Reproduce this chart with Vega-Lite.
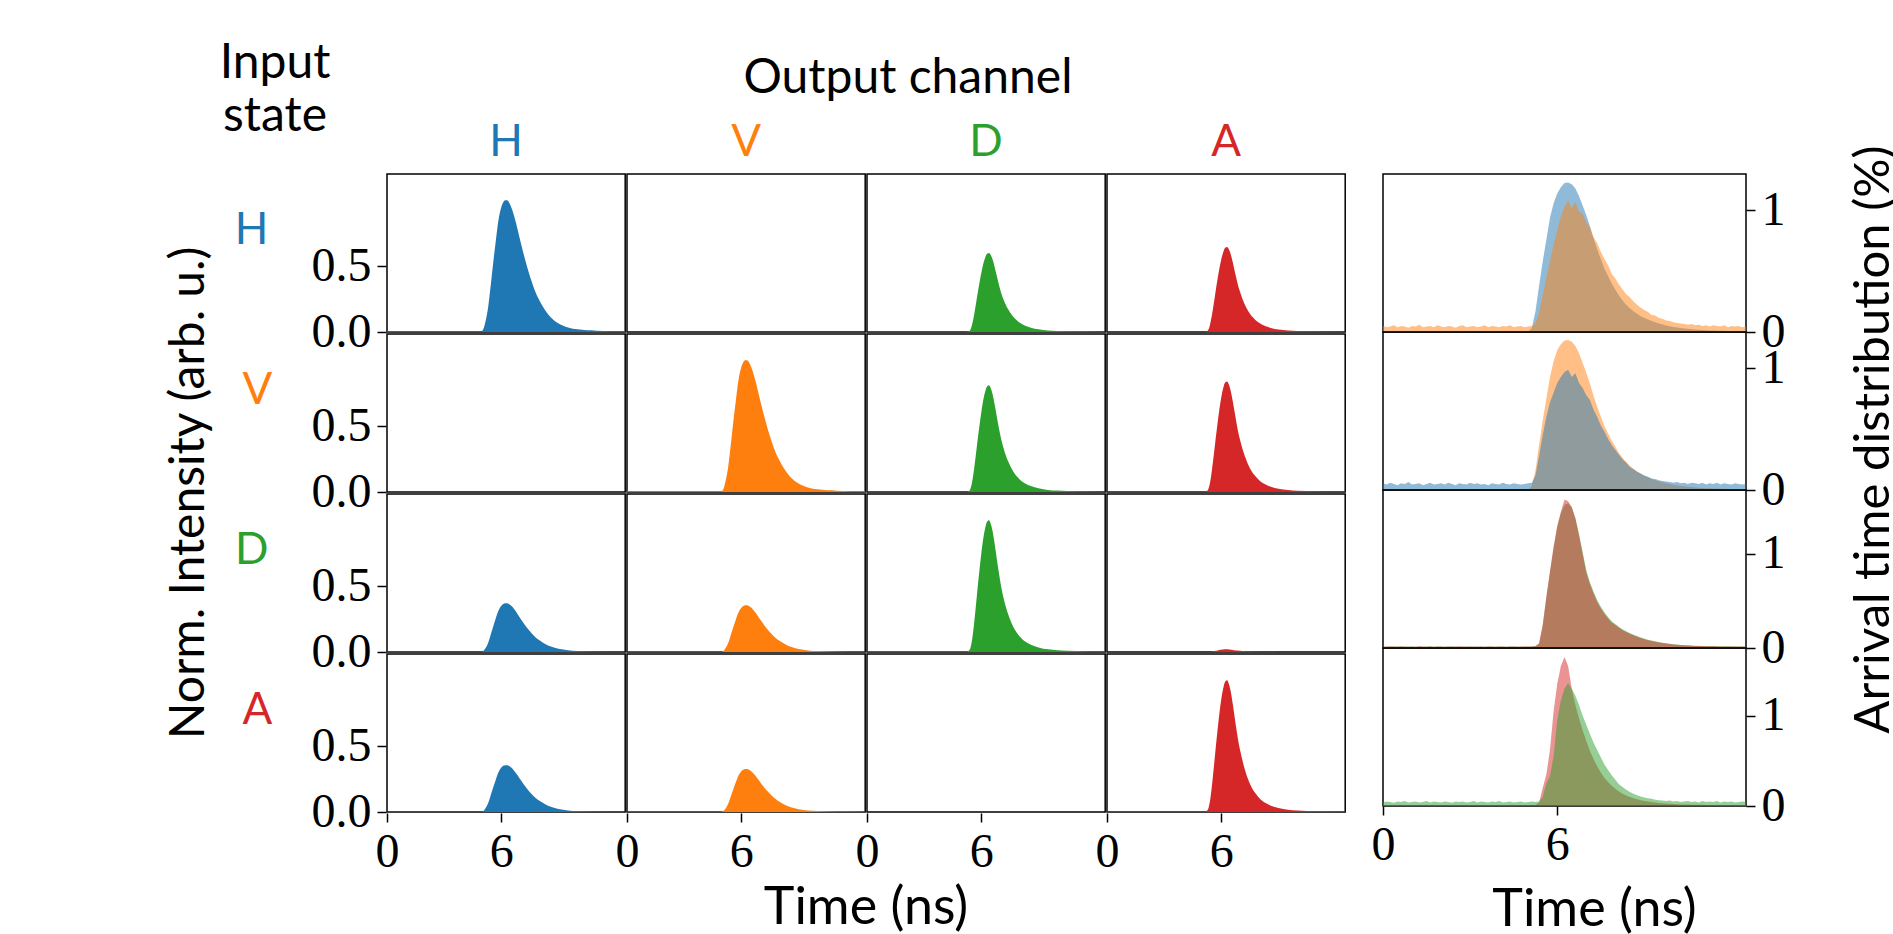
{
  "$schema": "https://vega.github.io/schema/vega-lite/v6.json",
  "background": "white",
  "padding": {"left": 165, "top": 40, "right": 0, "bottom": 0},
  "title": {"text": ["Input", "state"], "anchor": "start", "frame": "bounds", "align": "center", "dx": 109, "offset": -86, "font": "Lato", "fontSize": 48, "fontWeight": "normal", "lineHeight": 53, "color": "black"},
  "config": {
    "font": "Lato",
    "view": {"stroke": "black", "strokeWidth": 1.5},
    "title": {"font": "Lato", "fontSize": 48, "fontWeight": "normal", "color": "black"},
    "axis": {"labelFont": "Liberation Serif", "labelFontSize": 48, "labelColor": "black", "tickColor": "black", "tickSize": 9, "tickWidth": 1.5, "domain": false, "grid": false, "labelFlush": false, "labelPadding": 6, "titleFont": "Lato", "titleFontSize": 48, "titleFontWeight": "normal", "titleColor": "black"}
  },
  "datasets": {
    "main": [
      {"i":"H","o":"H","t":[0,4.9,5,5.1,5.2,5.3,5.4,5.5,5.6,5.7,5.8,5.9,6,6.1,6.2,6.3,6.4,6.5,6.6,6.7,6.8,6.9,7,7.2,7.4,7.6,7.8,8,8.3,8.6,9,9.5,10,11,12.5],"v":[0.005,0.005,0.01,0.04,0.1,0.18,0.3,0.43,0.56,0.68,0.8,0.89,0.95,0.985,1,1,0.985,0.955,0.915,0.865,0.81,0.75,0.69,0.575,0.47,0.38,0.3,0.24,0.165,0.11,0.065,0.035,0.02,0.01,0.005]},
      {"i":"H","o":"V","t":[0,4.9,5,5.1,5.2,5.3,5.4,5.5,5.6,5.7,5.8,5.9,6,6.1,6.2,6.3,6.4,6.5,6.6,6.7,6.8,6.9,7,7.2,7.4,7.6,7.8,8,8.3,8.6,9,9.5,10,11,12.5],"v":[0,0,0,0,0,0,0,0,0,0,0,0,0,0,0,0,0,0,0,0,0,0,0,0,0,0,0,0,0,0,0,0,0,0,0]},
      {"i":"H","o":"D","t":[0,4.9,5,5.1,5.2,5.3,5.4,5.5,5.6,5.7,5.8,5.9,6,6.1,6.2,6.3,6.4,6.5,6.6,6.7,6.8,6.9,7,7.2,7.4,7.6,7.8,8,8.3,8.6,9,9.5,10,11,12.5],"v":[0.002,0.002,0.002,0.002,0.002,0.003,0.012,0.048,0.114,0.198,0.288,0.372,0.45,0.516,0.564,0.594,0.6,0.582,0.546,0.492,0.432,0.372,0.318,0.234,0.174,0.129,0.096,0.072,0.048,0.033,0.021,0.012,0.008,0.005,0.002]},
      {"i":"H","o":"A","t":[0,4.9,5,5.1,5.2,5.3,5.4,5.5,5.6,5.7,5.8,5.9,6,6.1,6.2,6.3,6.4,6.5,6.6,6.7,6.8,6.9,7,7.2,7.4,7.6,7.8,8,8.3,8.6,9,9.5,10,11,12.5],"v":[0.002,0.002,0.002,0.002,0.003,0.013,0.052,0.123,0.213,0.31,0.4,0.484,0.555,0.606,0.639,0.645,0.626,0.587,0.529,0.464,0.4,0.342,0.297,0.219,0.161,0.119,0.09,0.068,0.045,0.031,0.019,0.012,0.008,0.005,0.002]},
      {"i":"V","o":"H","t":[0,4.9,5,5.1,5.2,5.3,5.4,5.5,5.6,5.7,5.8,5.9,6,6.1,6.2,6.3,6.4,6.5,6.6,6.7,6.8,6.9,7,7.2,7.4,7.6,7.8,8,8.3,8.6,9,9.5,10,11,12.5],"v":[0,0,0,0,0,0,0,0,0,0,0,0,0,0,0,0,0,0,0,0,0,0,0,0,0,0,0,0,0,0,0,0,0,0,0]},
      {"i":"V","o":"V","t":[0,4.9,5,5.1,5.2,5.3,5.4,5.5,5.6,5.7,5.8,5.9,6,6.1,6.2,6.3,6.4,6.5,6.6,6.7,6.8,6.9,7,7.2,7.4,7.6,7.8,8,8.3,8.6,9,9.5,10,11,12.5],"v":[0.005,0.005,0.01,0.04,0.1,0.18,0.3,0.43,0.56,0.68,0.8,0.89,0.95,0.985,1,1,0.985,0.955,0.915,0.865,0.81,0.75,0.69,0.575,0.47,0.38,0.3,0.24,0.165,0.11,0.065,0.035,0.02,0.01,0.005]},
      {"i":"V","o":"D","t":[0,4.9,5,5.1,5.2,5.3,5.4,5.5,5.6,5.7,5.8,5.9,6,6.1,6.2,6.3,6.4,6.5,6.6,6.7,6.8,6.9,7,7.2,7.4,7.6,7.8,8,8.3,8.6,9,9.5,10,11,12.5],"v":[0.002,0.002,0.002,0.002,0.002,0.004,0.016,0.065,0.154,0.267,0.389,0.502,0.608,0.697,0.761,0.802,0.81,0.786,0.737,0.664,0.583,0.502,0.429,0.316,0.235,0.174,0.13,0.097,0.065,0.045,0.028,0.016,0.011,0.006,0.002]},
      {"i":"V","o":"A","t":[0,4.9,5,5.1,5.2,5.3,5.4,5.5,5.6,5.7,5.8,5.9,6,6.1,6.2,6.3,6.4,6.5,6.6,6.7,6.8,6.9,7,7.2,7.4,7.6,7.8,8,8.3,8.6,9,9.5,10,11,12.5],"v":[0.003,0.003,0.003,0.003,0.004,0.017,0.067,0.16,0.277,0.403,0.521,0.63,0.722,0.79,0.832,0.84,0.815,0.764,0.689,0.605,0.521,0.445,0.386,0.286,0.21,0.155,0.118,0.088,0.059,0.04,0.025,0.015,0.01,0.006,0.003]},
      {"i":"D","o":"H","t":[0,4.9,5,5.1,5.2,5.3,5.4,5.5,5.6,5.7,5.8,5.9,6,6.1,6.2,6.3,6.4,6.5,6.6,6.7,6.8,6.9,7,7.2,7.4,7.6,7.8,8,8.3,8.6,9,9.5,10,11,12.5],"v":[0.002,0.002,0.004,0.015,0.037,0.067,0.111,0.159,0.207,0.252,0.296,0.329,0.352,0.364,0.37,0.37,0.364,0.353,0.339,0.32,0.3,0.278,0.255,0.213,0.174,0.141,0.111,0.089,0.061,0.041,0.024,0.013,0.007,0.004,0.002]},
      {"i":"D","o":"V","t":[0,4.9,5,5.1,5.2,5.3,5.4,5.5,5.6,5.7,5.8,5.9,6,6.1,6.2,6.3,6.4,6.5,6.6,6.7,6.8,6.9,7,7.2,7.4,7.6,7.8,8,8.3,8.6,9,9.5,10,11,12.5],"v":[0.002,0.002,0.004,0.014,0.036,0.064,0.107,0.153,0.199,0.241,0.284,0.316,0.337,0.35,0.355,0.355,0.35,0.339,0.325,0.307,0.288,0.266,0.245,0.204,0.167,0.135,0.107,0.085,0.059,0.039,0.023,0.012,0.007,0.004,0.002]},
      {"i":"D","o":"D","t":[0,4.9,5,5.1,5.2,5.3,5.4,5.5,5.6,5.7,5.8,5.9,6,6.1,6.2,6.3,6.4,6.5,6.6,6.7,6.8,6.9,7,7.2,7.4,7.6,7.8,8,8.3,8.6,9,9.5,10,11,12.5],"v":[0.003,0.003,0.003,0.003,0.003,0.005,0.02,0.08,0.19,0.33,0.48,0.62,0.75,0.86,0.94,0.99,1,0.97,0.91,0.82,0.72,0.62,0.53,0.39,0.29,0.215,0.16,0.12,0.08,0.055,0.035,0.02,0.014,0.008,0.003]},
      {"i":"D","o":"A","t":[0,4.9,5,5.1,5.2,5.3,5.4,5.5,5.6,5.7,5.8,5.9,6,6.1,6.2,6.3,6.4,6.5,6.6,6.7,6.8,6.9,7,7.2,7.4,7.6,7.8,8,8.3,8.6,9,9.5,10,11,12.5],"v":[0,0,0,0,0,0,0.002,0.004,0.007,0.01,0.012,0.015,0.017,0.019,0.02,0.02,0.019,0.018,0.016,0.014,0.012,0.011,0.009,0.007,0.005,0.004,0.003,0.002,0.001,0.001,0,0,0,0,0]},
      {"i":"A","o":"H","t":[0,4.9,5,5.1,5.2,5.3,5.4,5.5,5.6,5.7,5.8,5.9,6,6.1,6.2,6.3,6.4,6.5,6.6,6.7,6.8,6.9,7,7.2,7.4,7.6,7.8,8,8.3,8.6,9,9.5,10,11,12.5],"v":[0.002,0.002,0.004,0.014,0.036,0.064,0.107,0.153,0.199,0.242,0.285,0.317,0.338,0.351,0.356,0.356,0.351,0.34,0.326,0.308,0.288,0.267,0.246,0.205,0.167,0.135,0.107,0.085,0.059,0.039,0.023,0.012,0.007,0.004,0.002]},
      {"i":"A","o":"V","t":[0,4.9,5,5.1,5.2,5.3,5.4,5.5,5.6,5.7,5.8,5.9,6,6.1,6.2,6.3,6.4,6.5,6.6,6.7,6.8,6.9,7,7.2,7.4,7.6,7.8,8,8.3,8.6,9,9.5,10,11,12.5],"v":[0.002,0.002,0.003,0.013,0.033,0.059,0.098,0.14,0.183,0.222,0.261,0.29,0.31,0.321,0.326,0.326,0.321,0.311,0.298,0.282,0.264,0.245,0.225,0.187,0.153,0.124,0.098,0.078,0.054,0.036,0.021,0.011,0.007,0.003,0.002]},
      {"i":"A","o":"D","t":[0,4.9,5,5.1,5.2,5.3,5.4,5.5,5.6,5.7,5.8,5.9,6,6.1,6.2,6.3,6.4,6.5,6.6,6.7,6.8,6.9,7,7.2,7.4,7.6,7.8,8,8.3,8.6,9,9.5,10,11,12.5],"v":[0,0,0,0,0,0,0,0,0,0,0,0,0,0,0,0,0,0,0,0,0,0,0,0,0,0,0,0,0,0,0,0,0,0,0]},
      {"i":"A","o":"A","t":[0,4.9,5,5.1,5.2,5.3,5.4,5.5,5.6,5.7,5.8,5.9,6,6.1,6.2,6.3,6.4,6.5,6.6,6.7,6.8,6.9,7,7.2,7.4,7.6,7.8,8,8.3,8.6,9,9.5,10,11,12.5],"v":[0.003,0.003,0.003,0.003,0.005,0.02,0.08,0.19,0.33,0.48,0.62,0.75,0.86,0.94,0.99,1,0.97,0.91,0.82,0.72,0.62,0.53,0.46,0.34,0.25,0.185,0.14,0.105,0.07,0.048,0.03,0.018,0.012,0.007,0.003]}
    ],
    "right": [
      {"r":"H","t":[0,0.125,0.25,0.375,0.5,0.625,0.75,0.875,1,1.125,1.25,1.375,1.5,1.625,1.75,1.875,2,2.125,2.25,2.375,2.5,2.625,2.75,2.875,3,3.125,3.25,3.375,3.5,3.625,3.75,3.875,4,4.125,4.25,4.375,4.5,4.625,4.75,4.875,5,5.125,5.25,5.375,5.5,5.625,5.75,5.875,6,6.125,6.25,6.375,6.5,6.625,6.75,6.875,7,7.125,7.25,7.375,7.5,7.625,7.75,7.875,8,8.125,8.25,8.375,8.5,8.625,8.75,8.875,9,9.125,9.25,9.375,9.5,9.625,9.75,9.875,10,10.125,10.25,10.375,10.5,10.625,10.75,10.875,11,11.125,11.25,11.375,11.5,11.625,11.75,11.875,12,12.125,12.25,12.375,12.5],
       "a":[0.005,0.005,0.005,0.005,0.005,0.005,0.005,0.005,0.005,0.005,0.005,0.005,0.005,0.005,0.005,0.005,0.005,0.005,0.005,0.005,0.005,0.005,0.005,0.005,0.005,0.005,0.005,0.005,0.005,0.005,0.005,0.005,0.005,0.005,0.005,0.005,0.005,0.005,0.005,0.005,0.005,0.03,0.17,0.38,0.58,0.76,0.94,1.06,1.14,1.19,1.225,1.23,1.215,1.18,1.12,1.04,0.96,0.87,0.77,0.68,0.6,0.52,0.46,0.4,0.35,0.3,0.26,0.225,0.195,0.17,0.15,0.13,0.117,0.103,0.09,0.08,0.07,0.062,0.054,0.048,0.042,0.037,0.033,0.029,0.026,0.023,0.02,0.018,0.016,0.015,0.013,0.012,0.011,0.01,0.01,0.009,0.008,0.008,0.007,0.007,0.006],
       "b":[0.05,0.04,0.045,0.055,0.04,0.05,0.045,0.035,0.05,0.045,0.06,0.04,0.045,0.05,0.04,0.055,0.045,0.04,0.05,0.045,0.035,0.05,0.055,0.04,0.045,0.05,0.04,0.045,0.055,0.04,0.05,0.045,0.04,0.05,0.045,0.055,0.04,0.045,0.05,0.04,0.045,0.05,0.07,0.16,0.3,0.45,0.58,0.72,0.84,0.95,1.03,1.08,1.02,1.07,0.99,0.97,0.9,0.86,0.78,0.73,0.66,0.6,0.55,0.48,0.44,0.39,0.35,0.31,0.285,0.25,0.225,0.2,0.18,0.165,0.14,0.135,0.115,0.11,0.095,0.09,0.08,0.075,0.07,0.065,0.06,0.065,0.055,0.06,0.05,0.055,0.045,0.055,0.05,0.045,0.055,0.04,0.05,0.045,0.05,0.04,0.045]},
      {"r":"V","t":[0,0.125,0.25,0.375,0.5,0.625,0.75,0.875,1,1.125,1.25,1.375,1.5,1.625,1.75,1.875,2,2.125,2.25,2.375,2.5,2.625,2.75,2.875,3,3.125,3.25,3.375,3.5,3.625,3.75,3.875,4,4.125,4.25,4.375,4.5,4.625,4.75,4.875,5,5.125,5.25,5.375,5.5,5.625,5.75,5.875,6,6.125,6.25,6.375,6.5,6.625,6.75,6.875,7,7.125,7.25,7.375,7.5,7.625,7.75,7.875,8,8.125,8.25,8.375,8.5,8.625,8.75,8.875,9,9.125,9.25,9.375,9.5,9.625,9.75,9.875,10,10.125,10.25,10.375,10.5,10.625,10.75,10.875,11,11.125,11.25,11.375,11.5,11.625,11.75,11.875,12,12.125,12.25,12.375,12.5],
       "a":[0.005,0.005,0.005,0.005,0.005,0.005,0.005,0.005,0.005,0.005,0.005,0.005,0.005,0.005,0.005,0.005,0.005,0.005,0.005,0.005,0.005,0.005,0.005,0.005,0.005,0.005,0.005,0.005,0.005,0.005,0.005,0.005,0.005,0.005,0.005,0.005,0.005,0.005,0.005,0.005,0.005,0.03,0.16,0.37,0.57,0.75,0.93,1.06,1.15,1.2,1.23,1.235,1.22,1.185,1.125,1.045,0.965,0.875,0.775,0.685,0.605,0.525,0.465,0.405,0.355,0.305,0.265,0.23,0.2,0.175,0.153,0.133,0.118,0.104,0.091,0.081,0.071,0.063,0.055,0.049,0.043,0.038,0.034,0.03,0.027,0.024,0.021,0.019,0.017,0.015,0.014,0.013,0.012,0.011,0.01,0.009,0.009,0.008,0.008,0.007,0.007],
       "b":[0.055,0.045,0.06,0.05,0.04,0.055,0.05,0.065,0.045,0.05,0.055,0.04,0.05,0.06,0.045,0.05,0.055,0.045,0.06,0.05,0.04,0.055,0.05,0.045,0.06,0.05,0.055,0.045,0.05,0.04,0.055,0.05,0.045,0.06,0.05,0.045,0.055,0.05,0.045,0.05,0.055,0.06,0.12,0.28,0.45,0.6,0.72,0.8,0.88,0.93,0.97,0.99,0.93,0.96,0.88,0.84,0.78,0.74,0.66,0.6,0.53,0.48,0.42,0.37,0.33,0.29,0.25,0.225,0.19,0.17,0.15,0.135,0.12,0.11,0.095,0.09,0.08,0.075,0.07,0.065,0.06,0.065,0.055,0.06,0.05,0.06,0.055,0.05,0.06,0.045,0.055,0.05,0.06,0.045,0.055,0.05,0.045,0.055,0.05,0.045,0.05]},
      {"r":"D","t":[0,0.125,0.25,0.375,0.5,0.625,0.75,0.875,1,1.125,1.25,1.375,1.5,1.625,1.75,1.875,2,2.125,2.25,2.375,2.5,2.625,2.75,2.875,3,3.125,3.25,3.375,3.5,3.625,3.75,3.875,4,4.125,4.25,4.375,4.5,4.625,4.75,4.875,5,5.125,5.25,5.375,5.5,5.625,5.75,5.875,6,6.125,6.25,6.375,6.5,6.625,6.75,6.875,7,7.125,7.25,7.375,7.5,7.625,7.75,7.875,8,8.125,8.25,8.375,8.5,8.625,8.75,8.875,9,9.125,9.25,9.375,9.5,9.625,9.75,9.875,10,10.125,10.25,10.375,10.5,10.625,10.75,10.875,11,11.125,11.25,11.375,11.5,11.625,11.75,11.875,12,12.125,12.25,12.375,12.5],
       "a":[0.014,0.017,0.013,0.016,0.015,0.018,0.012,0.015,0.017,0.014,0.016,0.013,0.015,0.018,0.014,0.016,0.015,0.013,0.017,0.015,0.016,0.014,0.012,0.017,0.015,0.016,0.014,0.015,0.013,0.017,0.015,0.014,0.016,0.015,0.013,0.016,0.015,0.017,0.014,0.016,0.015,0.016,0.019,0.045,0.23,0.53,0.8,1.06,1.28,1.43,1.52,1.54,1.49,1.38,1.21,1.02,0.83,0.7,0.6,0.51,0.44,0.38,0.33,0.285,0.255,0.225,0.2,0.178,0.16,0.142,0.127,0.112,0.1,0.089,0.079,0.071,0.063,0.056,0.05,0.045,0.041,0.037,0.033,0.03,0.028,0.026,0.024,0.023,0.022,0.021,0.02,0.02,0.019,0.019,0.018,0.018,0.018,0.017,0.017,0.017,0.016],
       "b":[0.015,0.012,0.018,0.015,0.013,0.017,0.015,0.012,0.016,0.014,0.018,0.015,0.013,0.016,0.014,0.017,0.015,0.012,0.016,0.015,0.014,0.018,0.015,0.013,0.016,0.014,0.015,0.017,0.013,0.015,0.016,0.014,0.015,0.017,0.013,0.015,0.016,0.014,0.015,0.016,0.015,0.017,0.02,0.05,0.25,0.55,0.82,1.08,1.3,1.45,1.58,1.56,1.5,1.38,1.2,1.0,0.8,0.68,0.58,0.49,0.42,0.365,0.315,0.27,0.245,0.215,0.19,0.17,0.152,0.135,0.12,0.106,0.094,0.083,0.074,0.066,0.058,0.052,0.047,0.042,0.038,0.034,0.031,0.028,0.026,0.024,0.022,0.021,0.02,0.019,0.019,0.018,0.018,0.017,0.017,0.016,0.016,0.016,0.015,0.015,0.015]},
      {"r":"A","t":[0,0.125,0.25,0.375,0.5,0.625,0.75,0.875,1,1.125,1.25,1.375,1.5,1.625,1.75,1.875,2,2.125,2.25,2.375,2.5,2.625,2.75,2.875,3,3.125,3.25,3.375,3.5,3.625,3.75,3.875,4,4.125,4.25,4.375,4.5,4.625,4.75,4.875,5,5.125,5.25,5.375,5.5,5.625,5.75,5.875,6,6.125,6.25,6.375,6.5,6.625,6.75,6.875,7,7.125,7.25,7.375,7.5,7.625,7.75,7.875,8,8.125,8.25,8.375,8.5,8.625,8.75,8.875,9,9.125,9.25,9.375,9.5,9.625,9.75,9.875,10,10.125,10.25,10.375,10.5,10.625,10.75,10.875,11,11.125,11.25,11.375,11.5,11.625,11.75,11.875,12,12.125,12.25,12.375,12.5],
       "a":[0.01,0.01,0.01,0.01,0.01,0.01,0.01,0.01,0.01,0.01,0.01,0.01,0.01,0.01,0.01,0.01,0.01,0.01,0.01,0.01,0.01,0.01,0.01,0.01,0.01,0.01,0.01,0.01,0.01,0.01,0.01,0.01,0.01,0.01,0.01,0.01,0.01,0.01,0.01,0.01,0.01,0.01,0.01,0.04,0.2,0.35,0.62,1.05,1.35,1.55,1.65,1.55,1.3,1.12,0.97,0.84,0.72,0.61,0.52,0.44,0.37,0.31,0.265,0.225,0.19,0.16,0.137,0.117,0.1,0.086,0.074,0.064,0.056,0.049,0.043,0.038,0.034,0.03,0.027,0.024,0.022,0.02,0.018,0.017,0.016,0.015,0.014,0.013,0.013,0.012,0.012,0.011,0.011,0.011,0.01,0.01,0.01,0.01,0.01,0.01,0.01],
       "b":[0.04,0.05,0.045,0.035,0.05,0.045,0.055,0.04,0.045,0.05,0.04,0.045,0.055,0.04,0.05,0.045,0.04,0.05,0.045,0.035,0.05,0.045,0.05,0.04,0.045,0.055,0.04,0.05,0.045,0.04,0.05,0.045,0.055,0.04,0.045,0.05,0.04,0.045,0.05,0.04,0.045,0.05,0.045,0.05,0.1,0.25,0.33,0.55,0.95,1.17,1.3,1.36,1.3,1.22,1.12,1.0,0.9,0.8,0.7,0.62,0.54,0.46,0.4,0.34,0.29,0.24,0.21,0.18,0.155,0.135,0.12,0.105,0.095,0.085,0.08,0.07,0.065,0.06,0.055,0.06,0.05,0.055,0.045,0.05,0.055,0.045,0.05,0.04,0.055,0.045,0.05,0.045,0.055,0.04,0.05,0.045,0.05,0.04,0.045,0.05,0.045]}
    ]
  },
  "spacing": 24,
  "hconcat": [
    {
      "data": {"name": "main"},
      "transform": [{"flatten": ["t", "v"]}],
      "title": {"text": "Output channel", "anchor": "middle", "frame": "bounds", "dx": 152, "offset": 18},
      "spacing": 0,
      "facet": {
        "row": {"field": "i", "type": "nominal", "sort": ["H", "V", "D", "A"],
          "header": {"title": "Norm. Intensity (arb. u.)", "titleFont": "Lato", "titleFontSize": 48, "titleFontWeight": "normal", "titleColor": "black", "titlePadding": 10,
            "labelAngle": 0, "labelFont": "Lato", "labelFontSize": 44, "labelBaseline": "bottom", "labelPadding": 9,
            "labelColor": {"expr": "parent['i'] == 'H' ? '#1f77b4' : parent['i'] == 'V' ? '#ff7f0e' : parent['i'] == 'D' ? '#2ca02c' : '#d62728'"}}},
        "column": {"field": "o", "type": "nominal", "sort": ["H", "V", "D", "A"],
          "header": {"title": "Time (ns)", "titleOrient": "bottom", "titleFont": "Lato", "titleFontSize": 52, "titleFontWeight": "normal", "titleColor": "black", "titlePadding": -3,
            "labelFont": "Lato", "labelFontSize": 44, "labelPadding": 8,
            "labelColor": {"expr": "parent['o'] == 'H' ? '#1f77b4' : parent['o'] == 'V' ? '#ff7f0e' : parent['o'] == 'D' ? '#2ca02c' : '#d62728'"}}}
      },
      "spec": {
        "width": 238.2,
        "height": 158,
        "mark": {"type": "area", "interpolate": "monotone"},
        "encoding": {
          "x": {"field": "t", "type": "quantitative", "scale": {"domain": [0, 12.5], "nice": false}, "axis": {"values": [0, 6], "format": "d", "title": null}},
          "y": {"field": "v", "type": "quantitative", "scale": {"domain": [0, 1.2], "nice": false}, "axis": {"values": [0, 0.5], "format": ".1f", "title": null}},
          "color": {"field": "o", "type": "nominal", "scale": {"domain": ["H", "V", "D", "A"], "range": ["#1f77b4", "#ff7f0e", "#2ca02c", "#d62728"]}, "legend": null}
        }
      }
    },
    {
      "spacing": 0,
      "bounds": "flush",
      "vconcat": [
        {
          "width": 363, "height": 158,
          "data": {"name": "right"},
          "transform": [{"filter": {"field": "r", "equal": "H"}}, {"flatten": ["t", "a", "b"]}],
          "layer": [
            {"mark": {"type": "area", "color": "#1f77b4", "opacity": 0.5},
             "encoding": {"x": {"field": "t", "type": "quantitative", "scale": {"domain": [0, 12.5], "nice": false}, "axis": null},
                          "y": {"field": "a", "type": "quantitative", "scale": {"domain": [0, 1.3], "nice": false}, "axis": {"orient": "right", "values": [0, 1], "format": "d", "title": null}}}},
            {"mark": {"type": "area", "color": "#ff7f0e", "opacity": 0.5},
             "encoding": {"x": {"field": "t", "type": "quantitative", "scale": {"domain": [0, 12.5], "nice": false}, "axis": null},
                          "y": {"field": "b", "type": "quantitative", "scale": {"domain": [0, 1.3], "nice": false}, "axis": {"orient": "right", "values": [0, 1], "format": "d", "title": null}}}}
          ]
        },
        {
          "width": 363, "height": 158,
          "data": {"name": "right"},
          "transform": [{"filter": {"field": "r", "equal": "V"}}, {"flatten": ["t", "a", "b"]}],
          "layer": [
            {"mark": {"type": "area", "color": "#ff7f0e", "opacity": 0.5},
             "encoding": {"x": {"field": "t", "type": "quantitative", "scale": {"domain": [0, 12.5], "nice": false}, "axis": null},
                          "y": {"field": "a", "type": "quantitative", "scale": {"domain": [0, 1.3], "nice": false}, "axis": {"orient": "right", "values": [0, 1], "format": "d", "title": "Arrival time distribution (%)", "titleFontSize": 49, "titleAngle": 270, "titleX": 142, "titleY": 107, "titleAlign": "center", "titleBaseline": "alphabetic"}}}},
            {"mark": {"type": "area", "color": "#1f77b4", "opacity": 0.5},
             "encoding": {"x": {"field": "t", "type": "quantitative", "scale": {"domain": [0, 12.5], "nice": false}, "axis": null},
                          "y": {"field": "b", "type": "quantitative", "scale": {"domain": [0, 1.3], "nice": false}, "axis": {"orient": "right", "values": [0, 1], "format": "d", "title": "Arrival time distribution (%)", "titleFontSize": 49, "titleAngle": 270, "titleX": 142, "titleY": 107, "titleAlign": "center", "titleBaseline": "alphabetic"}}}}
          ]
        },
        {
          "width": 363, "height": 158,
          "data": {"name": "right"},
          "transform": [{"filter": {"field": "r", "equal": "D"}}, {"flatten": ["t", "a", "b"]}],
          "layer": [
            {"mark": {"type": "area", "color": "#2ca02c", "opacity": 0.5},
             "encoding": {"x": {"field": "t", "type": "quantitative", "scale": {"domain": [0, 12.5], "nice": false}, "axis": null},
                          "y": {"field": "a", "type": "quantitative", "scale": {"domain": [0, 1.68], "nice": false}, "axis": {"orient": "right", "values": [0, 1], "format": "d", "title": null}}}},
            {"mark": {"type": "area", "color": "#d62728", "opacity": 0.5},
             "encoding": {"x": {"field": "t", "type": "quantitative", "scale": {"domain": [0, 12.5], "nice": false}, "axis": null},
                          "y": {"field": "b", "type": "quantitative", "scale": {"domain": [0, 1.68], "nice": false}, "axis": {"orient": "right", "values": [0, 1], "format": "d", "title": null}}}}
          ]
        },
        {
          "width": 363, "height": 158,
          "data": {"name": "right"},
          "transform": [{"filter": {"field": "r", "equal": "A"}}, {"flatten": ["t", "a", "b"]}],
          "layer": [
            {"mark": {"type": "area", "color": "#d62728", "opacity": 0.5},
             "encoding": {"x": {"field": "t", "type": "quantitative", "scale": {"domain": [0, 12.5], "nice": false}, "axis": {"values": [0, 6], "format": "d", "title": "Time (ns)", "titleFontSize": 52, "titleX": 211, "titlePadding": 15}},
                          "y": {"field": "a", "type": "quantitative", "scale": {"domain": [0, 1.75], "nice": false}, "axis": {"orient": "right", "values": [0, 1], "format": "d", "title": null}}}},
            {"mark": {"type": "area", "color": "#2ca02c", "opacity": 0.5},
             "encoding": {"x": {"field": "t", "type": "quantitative", "scale": {"domain": [0, 12.5], "nice": false}, "axis": {"values": [0, 6], "format": "d", "title": "Time (ns)", "titleFontSize": 52, "titleX": 211, "titlePadding": 15}},
                          "y": {"field": "b", "type": "quantitative", "scale": {"domain": [0, 1.75], "nice": false}, "axis": {"orient": "right", "values": [0, 1], "format": "d", "title": null}}}}
          ]
        }
      ]
    }
  ]
}
